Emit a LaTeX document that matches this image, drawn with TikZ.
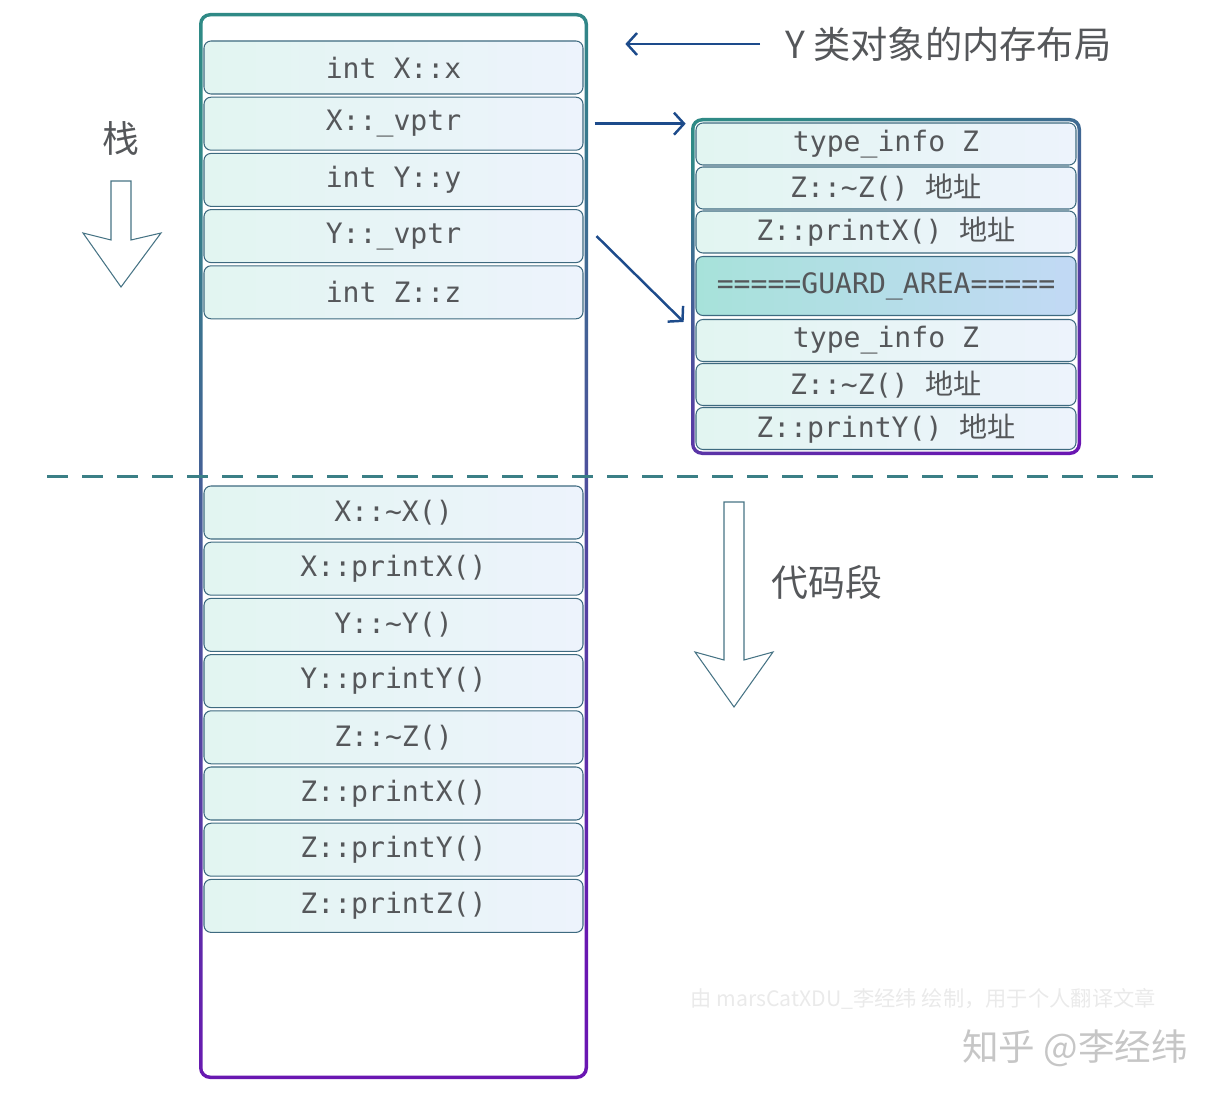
\documentclass[tikz,border=0pt]{standalone}
\usepackage{fontspec}
\setmonofont{DejaVu Sans Mono}
\newfontfamily\cjk{Noto Sans CJK SC}
\usetikzlibrary{arrows.meta}
\definecolor{txtgray}{HTML}{55575A}
\definecolor{cellL}{HTML}{E2F5F1}
\definecolor{cellR}{HTML}{EDF3FC}
\definecolor{guardL}{HTML}{A7E2DA}
\definecolor{guardR}{HTML}{C2D9F5}
\definecolor{cellline}{HTML}{3E6A80}
\definecolor{frameA}{HTML}{2F8A86}
\definecolor{frameB}{HTML}{1E4C8E}
\definecolor{frameC}{HTML}{6A16B2}
\definecolor{ptrblue}{HTML}{1D4B8B}
\definecolor{dashteal}{HTML}{3B7F86}
\definecolor{outline}{HTML}{467384}
\definecolor{wmlight}{HTML}{EAEAEA}
\definecolor{wmgray}{HTML}{C6C6C6}
\newlength\px
\setlength\px{0.02cm}

\begin{document}
\begin{tikzpicture}[x=0.02cm, y=-0.02cm,
  cell/.style={draw=cellline, line width=0.6pt, rounded corners=7\px, left color=cellL, right color=cellR, text=txtgray, font=\ttfamily\fontsize{16}{18}\selectfont, minimum width=379\px, minimum height=53\px, inner sep=0pt, node distance=56.2\px},
  rcell/.style={cell, minimum width=380\px, minimum height=42\px, node distance=44\px},
  guardcell/.style={rcell, left color=guardL, right color=guardR, minimum height=59\px},
  frame/.style={rounded corners=11\px, inner sep=0pt, path picture={
      \shade[top color=frameA, middle color=frameB, bottom color=frameC, shading angle=20] ([shift={(-20\px,20\px)}]path picture bounding box.north west) rectangle ([shift={(20\px,-20\px)}]path picture bounding box.south east);
      \fill[white, rounded corners=8\px] ([shift={(3.5\px,-3.5\px)}]path picture bounding box.north west) rectangle ([shift={(-3.5\px,3.5\px)}]path picture bounding box.south east);}},
  ptr/.style={draw=ptrblue, line width=1.4pt, -{Straight Barb[length=2mm, width=4.4mm]}},
  bigarrow/.style={draw=outline, line width=0.6pt},
  note/.style={text=txtgray, inner sep=0pt, font=\cjk\fontsize{21}{24}\selectfont}]
  \useasboundingbox (0,0) rectangle (1219,1098);
  \node[frame, minimum width=389\px, minimum height=1066\px] (stack) at (393.5,546) {};
  \node[frame, minimum width=390\px, minimum height=337\px] (vtbl) at (886,286.5) {};
  \draw[dashteal, line width=3\px, dash pattern=on 21\px off 14\px] (47,476) -- (1165,476);

  \node[cell] (xx) at (393.5,67.5) {int X::x};
  \node[cell, below of=xx] (xvptr) {X::\_vptr};
  \node[cell, below of=xvptr] (yy) {int Y::y};
  \node[cell, below of=yy] (yvptr) {Y::\_vptr};
  \node[cell, below of=yvptr] (zz) {int Z::z};

  \node[cell] (xdtor) at (393.5,512.5) {X::\textasciitilde X()};
  \node[cell, below of=xdtor] (xprintx) {X::printX()};
  \node[cell, below of=xprintx] (ydtor) {Y::\textasciitilde Y()};
  \node[cell, below of=ydtor] (yprinty) {Y::printY()};
  \node[cell, below of=yprinty] (zdtor) {Z::\textasciitilde Z()};
  \node[cell, below of=zdtor] (zprintx) {Z::printX()};
  \node[cell, below of=zprintx] (zprinty) {Z::printY()};
  \node[cell, below of=zprinty] (zprintz) {Z::printZ()};

  \node[rcell] (tiA) at (886,144) {type\_info Z};
  \node[rcell, below of=tiA] (zdtorA) {Z::\textasciitilde Z()\ {\cjk 地址}};
  \node[rcell, below of=zdtorA] (zprintxA) {Z::printX()\ {\cjk 地址}};
  \node[guardcell, below of=zprintxA, node distance=54\px] (guard) {=====GUARD\_AREA=====};
  \node[rcell, below of=guard, node distance=54.5\px] (tiB) {type\_info Z};
  \node[rcell, below of=tiB] (zdtorB) {Z::\textasciitilde Z()\ {\cjk 地址}};
  \node[rcell, below of=zdtorB] (zprintyB) {Z::printY()\ {\cjk 地址}};

  \node[note, anchor=west, font=\cjk\fontsize{21.2}{24}\selectfont] (title) at (785,44) {Y 类对象的内存布局};
  \node[note] (stacklbl) at (121,138) {栈};
  \node[note] (codelbl) at (827,582) {代码段};

  \draw[ptr] ([xshift=-25\px]title.west) -- ([xshift=37\px]stack.east |- title.west);
  \draw[ptr] ([xshift=11\px]xvptr.east) -- ([xshift=-5\px]vtbl.west |- xvptr.east);
  \draw[ptr] ([xshift=13\px]yvptr.east) -- ([xshift=-7\px,yshift=-3\px]vtbl.west |- tiB.north);

  \draw[bigarrow] (111,181) -- (131,181) -- (131,240) -- (161,233) -- (121,287) -- (83,233) -- (111,240) -- cycle;
  \draw[bigarrow] (724,502) -- (744,502) -- (744,660) -- (773,652) -- (734,707) -- (695,652) -- (724,660) -- cycle;

  \node[anchor=west, inner sep=0pt, text=wmlight, font=\cjk\fontsize{12.1}{14}\selectfont] (credit) at (690,999) {由 marsCatXDU\_李经纬 绘制，用于个人翻译文章};
  \node[anchor=west, inner sep=0pt, text=wmgray, font=\cjk\fontsize{20.8}{24}\selectfont] (zhihu) at (962,1048) {知乎 @李经纬};
\end{tikzpicture}
\end{document}
